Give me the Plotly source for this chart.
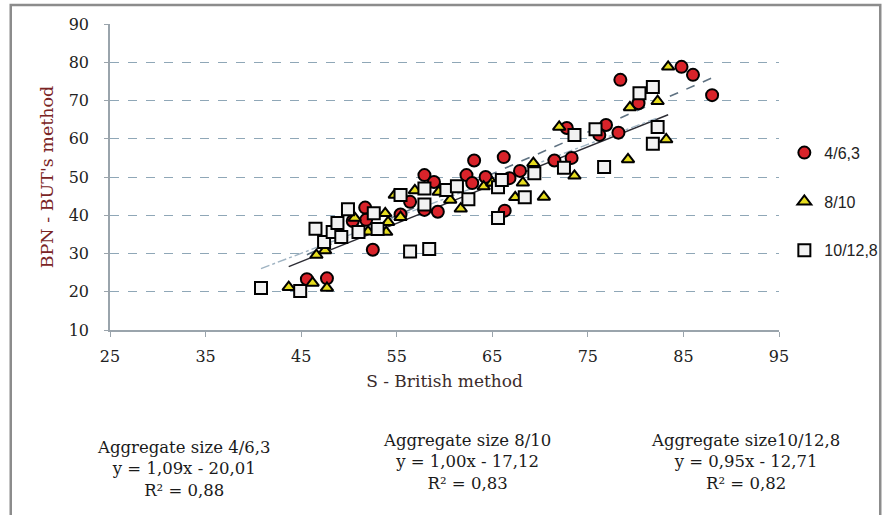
import plotly.graph_objects as go

# ---- data ----
series_names = ["4/6,3", "8/10", "10/12,8"]

x_463 = [45.6, 47.7, 52.5, 51.7, 51.8, 50.4, 55.4, 56.4, 57.9, 59.3, 57.9, 58.9, 62.3, 63.1, 62.9,
         64.3, 66.2, 66.8, 67.9, 66.3, 71.5, 73.3, 72.8, 76.9, 76.2, 78.2, 78.4, 80.3, 84.8, 86.0, 88.0]
y_463 = [23.3, 23.5, 31.0, 42.0, 38.8, 38.5, 40.2, 43.5, 41.4, 40.9, 50.5, 48.7, 50.5, 54.3, 48.4,
         50.0, 55.2, 49.7, 51.6, 41.2, 54.3, 55.0, 62.8, 63.6, 61.0, 61.6, 75.4, 69.3, 78.8, 76.7, 71.4]

x_810 = [43.7, 46.2, 47.7, 46.6, 47.5, 50.6, 52.0, 53.8, 54.1, 53.9, 55.4, 54.8, 56.9, 59.4, 60.6,
         61.7, 64.1, 65.0, 68.2, 67.4, 70.4, 69.3, 73.6, 72.0, 79.2, 79.4, 82.3, 83.4, 83.2]
y_810 = [21.2, 22.3, 21.0, 29.6, 30.8, 39.3, 35.7, 40.5, 38.2, 35.6, 39.5, 45.3, 46.5, 46.1, 44.0,
         41.7, 47.5, 48.5, 48.5, 44.7, 44.8, 53.6, 50.3, 63.1, 54.6, 68.2, 69.8, 78.8, 59.8]

x_1012 = [40.8, 44.9, 46.5, 47.4, 48.3, 48.8, 49.2, 49.9, 51.0, 52.6, 53.0, 55.4, 56.4, 58.4, 57.9, 57.9,
          60.2, 61.3, 62.5, 65.6, 66.0, 65.6, 68.4, 69.4, 72.5, 76.7, 73.6, 75.8, 80.4, 81.8, 82.3, 81.8]
y_1012 = [21.0, 20.2, 36.5, 33.0, 35.6, 38.0, 34.3, 41.6, 35.6, 40.5, 36.4, 45.3, 30.5, 31.2, 47.0, 42.8,
          46.6, 47.6, 44.2, 47.3, 49.2, 39.3, 44.7, 51.0, 52.4, 52.6, 61.0, 62.5, 71.9, 73.5, 63.1, 58.7]

slopes = [1.09, 1.00, 0.95]
intercepts = [-20.01, -17.12, -12.71]
r2 = ["0,88", "0,83", "0,82"]
eq_labels = ["y = 1,09x - 20,01", "y = 1,00x - 17,12", "y = 0,95x - 12,71"]
block_titles = ["Aggregate size 4/6,3", "Aggregate size 8/10", "Aggregate size10/12,8"]

x_ticks = [25, 35, 45, 55, 65, 75, 85, 95]
y_ticks = [10, 20, 30, 40, 50, 60, 70, 80, 90]

xs = [x_463, x_810, x_1012]
ys = [y_463, y_810, y_1012]

# ---- styles ----
symbols = ["circle", "triangle-up", "square"]
fills = ["#d9232a", "#e6dc1e", "#f2f2f2"]
sizes = [12, 11, 12]
line_dash = ["dash", "solid", "dashdot"]
line_col = ["#5f7282", "#2c2c34", "#9fb3c2"]
line_w = [1.6, 1.4, 1.4]

fig = go.Figure()

# trend lines
for i in range(3):
    x0, x1 = min(xs[i]), max(xs[i])
    fig.add_trace(go.Scatter(
        x=[x0, x1], y=[slopes[i] * x0 + intercepts[i], slopes[i] * x1 + intercepts[i]],
        mode="lines", line=dict(color=line_col[i], width=line_w[i], dash=line_dash[i]),
        legendgroup=series_names[i], showlegend=False, hoverinfo="skip"))

for i in range(3):
    fig.add_trace(go.Scatter(
        x=xs[i], y=ys[i], mode="markers", name=series_names[i],
        legendgroup=series_names[i], legendrank=i + 1,
        marker=dict(symbol=symbols[i], size=sizes[i], color=fills[i],
                    line=dict(color="#000000", width=2))))

serif = "DejaVu Serif"

fig.update_layout(
    width=895, height=515,
    paper_bgcolor="white", plot_bgcolor="white",
    margin=dict(l=110, r=111, t=24, b=185),
    showlegend=True,
    legend=dict(x=1.008, y=0.635, xanchor="left", yanchor="top",
                font=dict(family="Liberation Sans", size=16, color="#222"),
                tracegroupgap=25, itemsizing="constant", itemwidth=30,
                bgcolor="rgba(0,0,0,0)"),
    xaxis=dict(range=[25, 95], tickvals=x_ticks, showgrid=False, zeroline=False,
               showline=True, linecolor="#9aa4ac", linewidth=1.5,
               ticks="outside", ticklen=5, tickcolor="#9aa4ac", ticklabelstandoff=6,
               tickfont=dict(family=serif, size=16, color="#222"),
               title=dict(text="S - British method", standoff=10,
                          font=dict(family=serif, size=17, color="#3b2b2b"))),
    yaxis=dict(range=[10, 90], tickvals=y_ticks, showgrid=True, gridcolor="#8fa7b7",
               griddash="dash", gridwidth=1.2, zeroline=False,
               showline=True, linecolor="#9aa4ac", linewidth=1.5,
               ticks="outside", ticklen=4, tickcolor="#9aa4ac", ticklabelstandoff=12,
               tickfont=dict(family=serif, size=16, color="#222"),
               title=dict(text="BPN - BUT's method", standoff=11,
                          font=dict(family=serif, size=17.5, color="#7a2424"))),
)

# bottom equation blocks
block_x = [184, 470, 750]
block_y = [469, 462, 462]
for i in range(3):
    fig.add_annotation(
        x=(block_x[i] - 110) / 674, y=(330 - block_y[i]) / 306,
        xref="paper", yref="paper", xanchor="center", yanchor="middle",
        text=block_titles[i] + "<br>" + eq_labels[i] + "<br>R² = " + r2[i],
        showarrow=False, align="center",
        font=dict(family=serif, size=16.5, color="#1a1a1a"))

# outer frame
fig.add_shape(type="rect", xref="paper", yref="paper",
              x0=(10 - 110) / 674, x1=(886 - 110) / 674,
              y0=(330 - 530) / 306, y1=(330 - 5) / 306,
              line=dict(color="#8c8c8c", width=2.5), fillcolor="rgba(0,0,0,0)", layer="below")

fig.write_html("out.html", config={"displayModeBar": False},
               post_script="document.body.style.margin='0';document.body.style.overflow='hidden';")
